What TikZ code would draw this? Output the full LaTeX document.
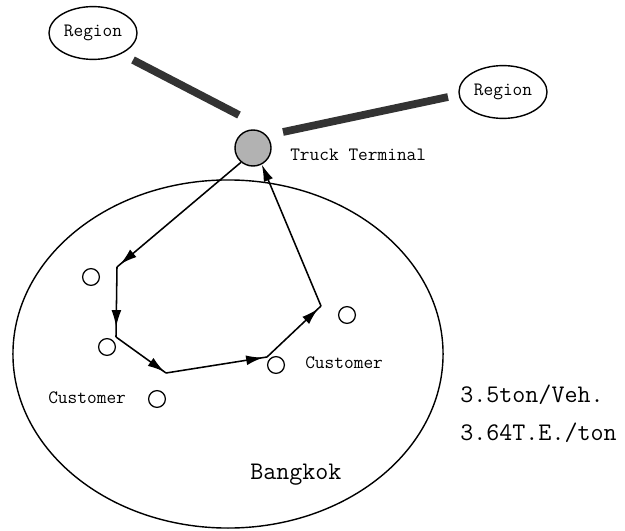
\documentclass[tikz,border=0pt]{standalone}
\usetikzlibrary{arrows.meta,decorations.markings,shapes.geometric}

\tikzset{
    region/.style={ellipse, draw, line width=1pt, minimum width=2.2cm, minimum height=1.32cm, inner sep=0pt,
        font=\ttfamily\fontsize{13.4}{15}\selectfont},
    customer/.style={circle, draw, line width=0.9pt, minimum size=0.42cm, inner sep=0pt},
    link/.style={line width=5.5pt, black!80},
    leg/.style={line width=1.1pt, postaction=decorate,
        decoration={markings, mark=at position -#1 with {\arrow{Latex[length=12pt,width=7pt]}}}},
    small/.style={font=\ttfamily\fontsize{13.4}{15}\selectfont, anchor=west, inner sep=0pt},
    large/.style={font=\ttfamily\fontsize{18}{20}\selectfont, anchor=west, inner sep=0pt}
}

\begin{document}
\begin{tikzpicture}[x=0.025cm, y=-0.025cm]
                \useasboundingbox (0,0) rectangle (625,531);

                % Bangkok area
                \node [ellipse, draw, line width=1pt, minimum width=10.75cm, minimum height=8.7cm] (bangkok) at (228,354) {};
                \node [large] (city) at (250,475) {Bangkok};

                % regions and terminal
                \node [region] (regionA) at (93,33) {Region};
                \node [region] (regionB) at (503,92) {Region};
                \node [circle, draw, line width=1pt, fill=black!30, minimum size=0.9cm, inner sep=0pt] (terminal) at (253,148) {};
                \node [small] (termname) at (290,155) {Truck Terminal};

                \coordinate (barA1) at (133,60);
                \coordinate (barA2) at (239,115);
                \coordinate (barB1) at (283,132);
                \coordinate (barB2) at (448,97);
                \draw[link] (barA1) -- (barA2);
                \draw[link] (barB1) -- (barB2);

                % customers
                \node [customer] (custA) at (91,277) {};
                \node [customer] (custB) at (107,347) {};
                \node [customer] (custC) at (157,399) {};
                \node [customer] (custD) at (276,365) {};
                \node [customer] (custE) at (347,315) {};
                \node [small] (nameC) at (48,398) {Customer};
                \node [small] (nameD) at (305,363) {Customer};

                % delivery tour
                \coordinate (stop1) at (117,267);
                \coordinate (stop2) at (116,337);
                \coordinate (stop3) at (166,373);
                \coordinate (stop4) at (267,357);
                \coordinate (stop5) at (321,306);
                \draw[leg=0.1cm] (terminal.-130) -- (stop1);
                \draw[leg=0.25cm] (stop1) -- (stop2);
                \draw[leg=0.05cm] (stop2) -- (stop3);
                \draw[leg=0.1cm] (stop3) -- (stop4);
                \draw[leg=0.1cm] (stop4) -- (stop5);
                \draw[line width=1.1pt, -{Latex[length=12pt,width=7pt]}] (stop5) -- (terminal.-62);

                \node [large] (load) at (460,395) {3.5ton/Veh.};
                \node [large] (rate) at (460,433) {3.64T.E./ton};
            \end{tikzpicture}
\end{document}
